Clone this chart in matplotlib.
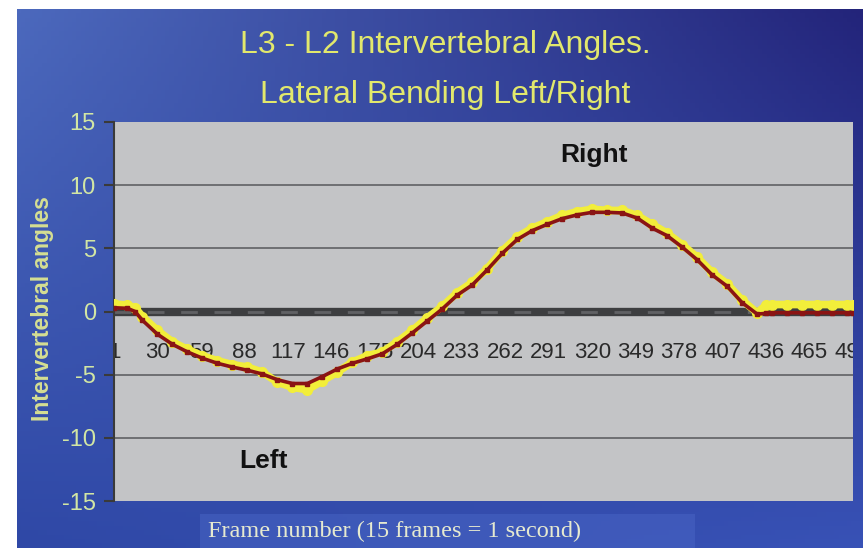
import numpy as np
import matplotlib
matplotlib.use("Agg")
import matplotlib.pyplot as plt
from matplotlib.colors import to_rgb
from matplotlib.patches import Rectangle

# frame numbers sampled along the curves
frames = [1, 10, 15, 20, 30, 40, 50, 60, 70, 80, 90, 100, 110, 120, 130, 140,
          150, 160, 170, 180, 190, 200, 210, 220, 230, 240, 250, 260, 270, 280,
          290, 300, 310, 320, 330, 340, 350, 360, 370, 380, 390, 400, 410, 420,
          430, 436, 440, 450, 460, 470, 480, 490, 494]

# raw angles (yellow)
raw = [0.6, 0.5, 0.3, -0.4, -1.5, -2.4, -3.0, -3.5, -3.9, -4.2, -4.4, -4.8,
       -5.6, -6.0, -6.2, -5.5, -4.8, -4.0, -3.5, -3.2, -2.4, -1.5, -0.5, 0.4,
       1.5, 2.3, 3.4, 4.8, 5.9, 6.6, 7.1, 7.6, 7.9, 8.1, 8.0, 8.0, 7.6, 6.9,
       6.2, 5.3, 4.3, 3.1, 2.2, 0.9, -0.1, 0.5, 0.55, 0.55, 0.55, 0.55, 0.55,
       0.55, 0.55]

# smoothed angles (dark red)
smooth = [0.3, 0.25, 0.0, -0.7, -1.8, -2.6, -3.2, -3.7, -4.1, -4.4, -4.65,
          -4.95, -5.4, -5.7, -5.7, -5.15, -4.55, -4.1, -3.75, -3.35, -2.6,
          -1.7, -0.75, 0.2, 1.3, 2.1, 3.3, 4.6, 5.7, 6.4, 6.9, 7.35, 7.65,
          7.85, 7.85, 7.8, 7.4, 6.6, 6.0, 5.1, 4.1, 2.9, 2.0, 0.7, -0.2, -0.15,
          -0.1, -0.1, -0.1, -0.1, -0.1, -0.1, -0.1]

xticks = list(range(1, 495, 29))
yticks = [-15, -10, -5, 0, 5, 10, 15]

sans = ['Liberation Sans', 'DejaVu Sans']

W, H = 863, 548
fig = plt.figure(figsize=(W / 100, H / 100), dpi=100)
fig.patch.set_facecolor('white')

# blue slide background (bilinear gradient)
bg = fig.add_axes([17 / W, 0, 1 - 17 / W, 1 - 9 / H], zorder=0)
tl, tr = np.array(to_rgb('#4c69bd')), np.array(to_rgb('#23247a'))
bl, br = np.array(to_rgb('#2f48a6')), np.array(to_rgb('#3852b6'))
u = np.linspace(0, 1, 200)[None, :, None]
v = np.linspace(0, 1, 120)[:, None, None]
img = (1 - v) * ((1 - u) * tl + u * tr) + v * ((1 - u) * bl + u * br)
bg.imshow(img, aspect='auto', extent=[0, 1, 0, 1], origin='upper')
bg.add_patch(Rectangle((183 / (W - 17), 0), 495 / (W - 17), 34 / (H - 9),
                       color='#4662c2', alpha=0.6, lw=0))
bg.set_axis_off()

fig.text(445 / W, 1 - 45 / H, 'L3 - L2 Intervertebral Angles.', ha='center',
         va='center', color='#e2e86c', fontsize=23, family=sans)
fig.text(445 / W, 1 - 95 / H, 'Lateral Bending Left/Right', ha='center',
         va='center', color='#e2e86c', fontsize=23, family=sans)
fig.text(208 / W, 1 - 531 / H, 'Frame number (15 frames = 1 second)',
         ha='left', va='center', color='#e6ead0', fontsize=17.5,
         family=['Liberation Serif', 'DejaVu Serif'])
fig.text(42 / W, 1 - 309 / H, 'Intervertebral angles', rotation=90,
         ha='center', va='center', color='#d6df92', fontsize=16.5,
         fontweight='bold', family=sans)

ax = fig.add_axes([114 / W, 1 - 501 / H, 739 / W, 379 / H], zorder=1)
ax.set_facecolor('#c3c4c6')
ax.set_xlim(1, 494)
ax.set_ylim(-15, 15)

for g in [-10, -5, 5, 10]:
    ax.axhline(g, color='#6e6f72', lw=1.4, zorder=1)
ax.axhline(0, color='#3d3e40', lw=6, zorder=2)
ax.axhline(0, color='#606164', lw=2, ls=(0, (6, 6)), zorder=2)

ax.plot(frames, raw, color='#f2ee3a', lw=5.5, marker='o', ms=7,
        solid_capstyle='round', zorder=3)
ax.plot(frames, smooth, color='#8a1414', lw=2.6, marker='s', ms=2.5,
        zorder=4)

ax.text(321, 12.4, 'Right', ha='center', va='center', fontsize=19,
        fontweight='bold', color='#111111', family=sans)
ax.text(101, -11.8, 'Left', ha='center', va='center', fontsize=19,
        fontweight='bold', color='#111111', family=sans)

ax.set_yticks(yticks)
ax.set_yticklabels([str(t) for t in yticks], family=sans, fontsize=17,
                   color='#d2e6a4')
ax.tick_params(axis='y', length=7, width=1.5, color='#3a3a3a', pad=6)

ax.spines['bottom'].set_position(('data', 0))
ax.set_xticks(xticks)
ax.set_xticklabels([str(t) for t in xticks], family=sans, fontsize=16,
                   color='#2a2a2a')
ax.tick_params(axis='x', length=0, pad=22)
for lbl in ax.get_xticklabels():
    lbl.set_clip_box(ax.bbox)
    lbl.set_clip_on(True)

for s in ['top', 'right', 'bottom']:
    ax.spines[s].set_visible(False)
ax.spines['left'].set_color('#3a3a3a')
ax.spines['left'].set_linewidth(1.5)

fig.savefig('out.png', dpi=100)
